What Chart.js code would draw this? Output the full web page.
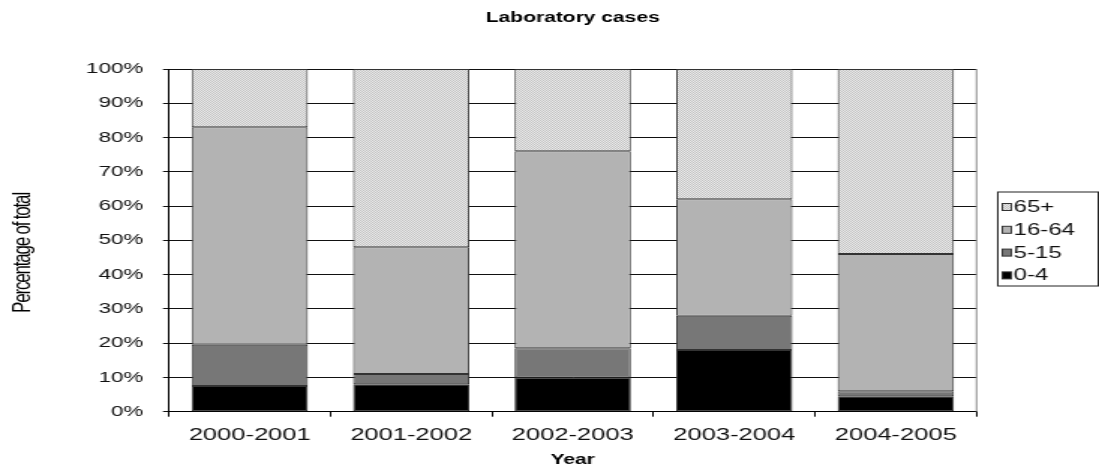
<!DOCTYPE html>
<html>
<head>
<meta charset="utf-8">
<title>Laboratory cases</title>
<script src="https://cdn.jsdelivr.net/npm/chart.js@4/dist/chart.umd.min.js"></script>
<style>
  html, body { margin: 0; padding: 0; background: #fff; overflow: hidden; }
  /* the drawing surface is rendered narrow and widened by CSS, giving the wide lettering */
  #chart { display: block; width: 1099px !important; height: 472px !important; }
</style>
</head>
<body>
<canvas id="chart" width="733" height="472"></canvas>
<script>
// Share of laboratory cases by age group, per season (percent of total)
const seasons = ['2000-2001', '2001-2002', '2002-2003', '2003-2004', '2004-2005'];
const age0to4 = [7.5, 8, 10, 18, 4.5];
const age5to15 = [12, 3, 8.5, 10, 1.5];
const age16to64 = [63.5, 37, 57.5, 34, 40];
const age65plus = [17, 52, 24, 38, 54];
const groupLabels = ['0-4', '5-15', '16-64', '65+'];
const yTickValues = [0, 10, 20, 30, 40, 50, 60, 70, 80, 90, 100];
const yAxisTitle = 'Percentage of total';

// fine dotted fill for the oldest group
function dottedFill() {
  const c = document.createElement('canvas');
  c.width = 2; c.height = 2;
  const g = c.getContext('2d');
  g.fillStyle = '#e9e9e9'; g.fillRect(0, 0, 2, 2);
  g.fillStyle = '#c4c4c4'; g.fillRect(0, 0, 1, 1); g.fillRect(1, 1, 1, 1);
  return g.createPattern(c, 'repeat');
}

const sans = "'Liberation Sans', Arial, sans-serif";

const fills = ['#000000', '#777777', '#b3b3b3', dottedFill()];
const series = [age0to4, age5to15, age16to64, age65plus];

const datasets = series.map((values, i) => ({
  label: groupLabels[i],
  data: values,
  backgroundColor: fills[i],
  borderColor: '#333333',
  borderWidth: 1,
  borderSkipped: false,
  categoryPercentage: 1.0,
  barPercentage: 0.72
}));

// plot frame, condensed rotated axis title and the boxed legend
const framePlugin = {
  id: 'frameAndLegend',
  afterDatasetsDraw(chart) {
    const { ctx, chartArea } = chart;
    ctx.save();
    ctx.strokeStyle = '#8a8a8a';
    ctx.lineWidth = 1;
    ctx.beginPath();
    ctx.moveTo(chartArea.right, chartArea.top);
    ctx.lineTo(chartArea.right, chartArea.bottom);
    ctx.stroke();
    ctx.restore();
  },
  afterDraw(chart) {
    const { ctx } = chart;

    // y axis title, tightly spaced
    ctx.save();
    ctx.translate(15, 253);
    ctx.rotate(-Math.PI / 2);
    ctx.font = '17px ' + sans;
    if ('letterSpacing' in ctx) ctx.letterSpacing = '-1.2px';
    ctx.fillStyle = '#000';
    ctx.textAlign = 'center';
    ctx.textBaseline = 'middle';
    ctx.fillText(yAxisTitle, 0, 0);
    ctx.restore();

    // legend
    const box = { left: 665.5, top: 192, right: 732.5, bottom: 286 };
    ctx.save();
    ctx.fillStyle = '#ffffff';
    ctx.fillRect(box.left, box.top, box.right - box.left, box.bottom - box.top);
    ctx.strokeStyle = '#222';
    ctx.lineWidth = 1;
    ctx.strokeRect(box.left, box.top, box.right - box.left, box.bottom - box.top);
    ctx.font = '16px ' + sans;
    ctx.textBaseline = 'middle';
    ctx.textAlign = 'left';
    const ds = chart.data.datasets.slice().reverse();
    ds.forEach((d, i) => {
      const cy = 207 + i * 22.8;
      ctx.fillStyle = d.backgroundColor;
      ctx.fillRect(668.5, cy - 3.5, 6, 7);
      ctx.strokeStyle = '#333';
      ctx.strokeRect(668.5, cy - 3.5, 6, 7);
      ctx.fillStyle = '#111';
      ctx.fillText(d.label, 676, cy + 0.5);
    });
    ctx.restore();
  }
};

new Chart(document.getElementById('chart'), {
  type: 'bar',
  data: { labels: seasons, datasets },
  options: {
    responsive: false,
    devicePixelRatio: 1,
    animation: false,
    layout: { padding: { left: 0, right: 81.7, top: 0, bottom: 0 } },
    plugins: {
      legend: { display: false },
      tooltip: { enabled: false },
      title: {
        display: true,
        text: 'Laboratory cases',
        fullSize: false,
        color: '#000',
        font: { family: sans, size: 14, weight: 'bold' },
        padding: { top: 9.6, bottom: 42.6 }
      }
    },
    scales: {
      x: {
        stacked: true,
        offset: true,
        grid: { display: true, drawOnChartArea: false, drawTicks: true, tickLength: 5, color: '#000', offset: true },
        border: { display: true, color: '#000', width: 1 },
        ticks: { color: '#111', font: { family: sans, size: 17 }, padding: 8, maxRotation: 0 },
        title: {
          display: true, text: 'Year', color: '#000',
          font: { family: sans, size: 14, weight: 'bold' },
          padding: { top: 0, bottom: 3 }
        },
        afterFit(scale) { scale.height = 60.3; }
      },
      y: {
        stacked: true,
        min: 0,
        max: 100,
        afterBuildTicks(scale) { scale.ticks = yTickValues.map(v => ({ value: v })); },
        grid: { color: '#111111', lineWidth: 1, tickLength: 4, drawTicks: true },
        border: { display: true, color: '#000', width: 1 },
        ticks: {
          color: '#111',
          font: { family: sans, size: 15 },
          padding: 13,
          callback: v => v + '%'
        },
        title: { display: false },
        afterFit(scale) { scale.width = 112.7; }
      }
    }
  },
  plugins: [framePlugin]
});
</script>
</body>
</html>
